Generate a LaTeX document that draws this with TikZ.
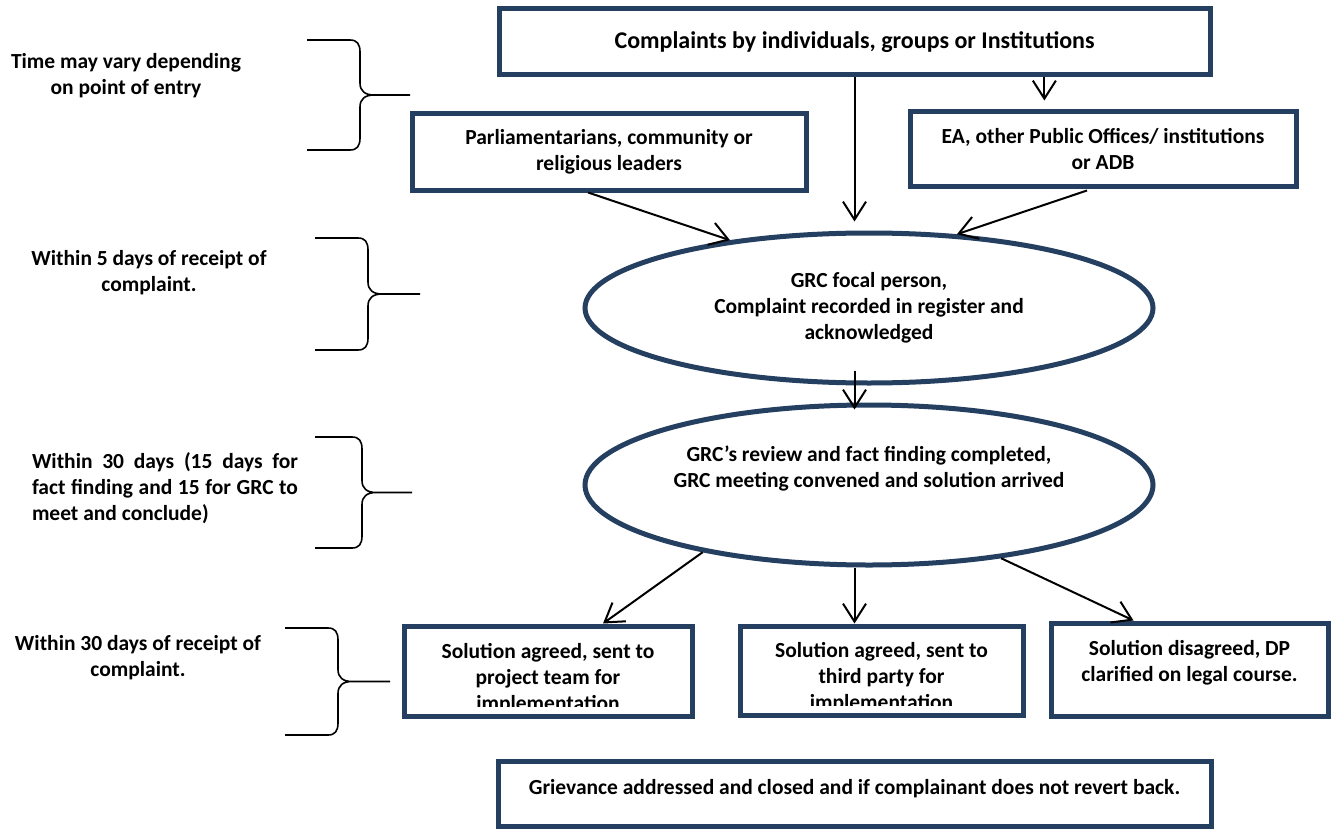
\documentclass[tikz,border=0pt]{standalone}
\usepackage{fontspec}
\setmainfont{Carlito}
\usepackage{tikz}
\usetikzlibrary{positioning, shapes.geometric, calc, arrows.meta}
\definecolor{grcNavy}{RGB}{36, 63, 96}
\tikzset{
    base/.style={
        font=\fontsize{21.5}{26}\selectfont\bfseries,
        align=center,
        text=black
    },
    stage/.style={
        base,
        rectangle,
        draw=grcNavy,
        line width=5pt,
        fill=white,
        inner sep=0pt
    },
    round/.style={
        base,
        ellipse,
        draw=grcNavy,
        line width=5pt,
        fill=white,
        inner sep=0pt
    },
    boxtext/.style 2 args={
        path picture={
            \clip (path picture bounding box.north west) rectangle ([yshift=10pt]path picture bounding box.south east);
            \node[base, inner sep=0pt] at ([yshift=#1]path picture bounding box.center) {#2};
        }
    },
    flow/.style={
        -{Straight Barb[length=18pt, width=23pt]},
        line width=2pt,
        color=black
    },
    timebrace/.style={
        line width=1.6pt,
        color=black,
        line join=round
    },
    timing/.style={
        base,
        inner sep=0pt
    }
}

\begin{document}
\begin{tikzpicture}[x=1pt, y=-1pt]
  \path[use as bounding box, fill=white] (0,0) rectangle (1337,829);

  % Points of entry
  \node[stage, minimum width=711pt, minimum height=66pt, font=\fontsize{24}{29}\selectfont\bfseries] (complaints) at (854.5,42) {Complaints by individuals, groups or Institutions};
  \node[stage, minimum width=394pt, minimum height=76pt] (leaders) at (609,152) {Parliamentarians, community or\\religious leaders};
  \node[stage, minimum width=386pt, minimum height=74pt] (offices) at (1103,149) {EA, other Public Offices/ institutions\\or ADB};

  % GRC
  \node[round, minimum width=568pt, minimum height=150pt] (focal) at (869,308) {GRC focal person,\\Complaint recorded in register and\\acknowledged};
  \node[round, minimum width=568pt, minimum height=160pt,
        boxtext={17pt}{GRC’s review and fact finding completed,\\GRC meeting convened and solution arrived}] (review) at (869,485) {};

  % Outcomes
  \node[stage, minimum width=288pt, minimum height=90pt,
        boxtext={-8pt}{Solution agreed, sent to\\project team for\\implementation}] (toproject) at (548,671) {};
  \node[stage, minimum width=283pt, minimum height=89pt,
        boxtext={-7.5pt}{Solution agreed, sent to\\third party for\\implementation}] (tothird) at (881.5,670.5) {};
  \node[stage, minimum width=277pt, minimum height=93pt,
        boxtext={6.5pt}{Solution disagreed, DP\\clarified on legal course.}] (legal) at (1189.5,669.5) {};
  \node[stage, minimum width=713pt, minimum height=65pt,
        boxtext={5pt}{Grievance addressed and closed and if complainant does not revert back.}] (closed) at (854.5,793.5) {};

  % Time frames
  \node[timing] (entrytime) at (126,76) {Time may vary depending\\on point of entry};
  \node[timing] (ackntime) at (149,273) {Within 5 days of receipt of\\complaint.};
  \node[timing, text width=266pt, align=justify] (reviewtime) at (165,488) {Within 30 days (15 days for\linebreak fact finding and 15 for GRC to\linebreak meet and conclude)};
  \node[timing] (solvetime) at (138,658) {Within 30 days of receipt of\\complaint.};

  \foreach \ya/\yb/\xa/\xb/\xc in {40/150/307/360/410, 238/350/315/368/420, 437/548/315/362/412, 628/735/285/338/390}{
    \pgfmathsetmacro{\ym}{(\ya+\yb)/2}
    \draw[timebrace] (\xa,\ya) -- ({\xb-10},\ya) .. controls ({\xb-3},\ya) and (\xb,{\ya+4}) .. (\xb,{\ya+12})
      -- (\xb,{\ym-12}) .. controls (\xb,{\ym-4}) and ({\xb+5},\ym) .. ({\xb+14},\ym) -- (\xc,\ym)
      ({\xb+14},\ym) .. controls ({\xb+5},\ym) and (\xb,{\ym+4}) .. (\xb,{\ym+12})
      -- (\xb,{\yb-12}) .. controls (\xb,{\yb-4}) and ({\xb-3},\yb) .. ({\xb-10},\yb) -- (\xa,\yb);
  }

  % Arrows
  \coordinate (officesin) at ($(offices.north west)!0.35!(offices.north east)$);
  \draw[flow, shorten >=9pt] (complaints.south) -- (complaints.south |- focal.north);
  \draw[flow, shorten >=9pt] (complaints.south -| officesin) -- (officesin);
  \draw[flow] ($(leaders.south)+(-21,0)$) -- (focal.154);
  \draw[flow] ($(offices.south)+(-16,2)$) -- (focal.40);
  \draw[flow, shorten <=-15pt, shorten >=-7pt] (focal.south -| complaints.south) -- (review.north -| complaints.south);
  \draw[flow] (review.202) -- ($(toproject.north)+(55,0)$);
  \draw[flow] (review.south -| complaints.south) -- (tothird.north -| complaints.south);
  \draw[flow] (review.331) -- ($(legal.north)+(-56,0)$);
\end{tikzpicture}
\end{document}
